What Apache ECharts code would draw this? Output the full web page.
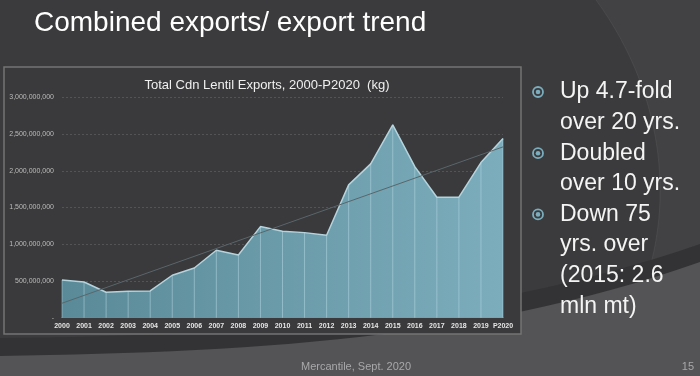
<!DOCTYPE html>
<html>
<head>
<meta charset="utf-8">
<script src="https://cdn.jsdelivr.net/npm/echarts@6/dist/echarts.min.js"></script>
<style>
html,body{margin:0;padding:0;background:#3b3b3d;}
#chart{width:700px;height:376px;}
</style>
</head>
<body>
<div id="chart"></div>
<script>
// ---- data ----
const slideTitle = 'Combined exports/ export trend';
const chartTitle = 'Total Cdn Lentil Exports, 2000-P2020  (kg)';
const categories = ['2000','2001','2002','2003','2004','2005','2006','2007','2008','2009','2010',
  '2011','2012','2013','2014','2015','2016','2017','2018','2019','P2020'];
const exportsKg = [514e6, 486e6, 346e6, 360e6, 364e6, 578e6, 677e6, 918e6, 854e6, 1240e6, 1177e6,
  1158e6, 1122e6, 1808e6, 2094e6, 2625e6, 2057e6, 1640e6, 1640e6, 2112e6, 2439e6];
const trendEnds = [197e6, 2325e6];      // linear trend line at 2000 and P2020
const yMax = 3000000000;
const yStep = 500000000;
const bullets = [
  ['Up 4.7-fold', 'over 20 yrs.'],
  ['Doubled', 'over 10 yrs.'],
  ['Down 75', 'yrs. over', '(2015: 2.6', 'mln mt)']
];
const footer = 'Mercantile, Sept. 2020';
const pageNo = '15';

// ---- decoration helpers (background shapes only) ----
function bez(p0, p1, p2, p3, n) {
  const pts = [];
  for (let i = 0; i <= n; i++) {
    const t = i / n, u = 1 - t;
    pts.push([
      u*u*u*p0[0] + 3*u*u*t*p1[0] + 3*u*t*t*p2[0] + t*t*t*p3[0],
      u*u*u*p0[1] + 3*u*u*t*p1[1] + 3*u*t*t*p2[1] + t*t*t*p3[1]
    ]);
  }
  return pts;
}
const arcPts = bez([596, 0], [640, 60], [662, 130], [660, 200], 20)
  .concat(bez([660, 200], [658, 270], [630, 330], [600, 376], 20).slice(1));
const shadowPts = bez([0, 338], [250, 336], [480, 320], [700, 244], 30);
const floorPts = bez([0, 356], [250, 352], [480, 340], [700, 262], 30);

// ---- chart ----
const chart = echarts.init(document.getElementById('chart'), null, {renderer: 'canvas'});

const graphics = [];
graphics.push({type: 'polygon', z: -20, silent: true,
  shape: {points: arcPts.concat([[700, 376], [700, 0]])},
  style: {fill: '#424244'}});
graphics.push({type: 'polyline', z: -19, silent: true,
  shape: {points: arcPts},
  style: {stroke: 'rgba(255,255,255,0.06)', lineWidth: 1}});
graphics.push({type: 'polygon', z: -18, silent: true,
  shape: {points: shadowPts.concat([[700, 376], [0, 376]])},
  style: {fill: '#333335'}});
graphics.push({type: 'polygon', z: -17, silent: true,
  shape: {points: floorPts.concat([[700, 376], [0, 376]])},
  style: {fill: '#545456'}});
// chart panel
graphics.push({type: 'rect', z: -10, silent: true,
  shape: {x: 4, y: 67, width: 517, height: 267},
  style: {fill: '#3a393b', stroke: '#747476', lineWidth: 1.5}});
// slide title
graphics.push({type: 'text', z: 50, left: 34, top: 9,
  style: {text: slideTitle, fill: '#ffffff', font: '28px "Liberation Sans", Arial, sans-serif'}});
// footer
graphics.push({type: 'text', z: 50, x: 356, y: 367,
  style: {text: footer, fill: '#a8a8aa', font: '11px "Liberation Sans", Arial, sans-serif', textAlign: 'center', textVerticalAlign: 'middle'}});
graphics.push({type: 'text', z: 50, x: 694, y: 367,
  style: {text: pageNo, fill: '#a8a8aa', font: '11px "Liberation Sans", Arial, sans-serif', textAlign: 'right', textVerticalAlign: 'middle'}});
// bullets
let lineIdx = 0;
const lineH = 30.6;
bullets.forEach(function (group) {
  const yc = 92 + lineIdx * lineH;
  graphics.push({type: 'circle', z: 50, silent: true, shape: {cx: 538, cy: yc, r: 5},
    style: {fill: null, stroke: '#7aaebe', lineWidth: 1.8}});
  graphics.push({type: 'circle', z: 50, silent: true, shape: {cx: 538, cy: yc, r: 2.3},
    style: {fill: '#7aaebe'}});
  group.forEach(function (line) {
    graphics.push({type: 'text', z: 50, x: 560, y: 92 + lineIdx * lineH,
      style: {text: line, fill: '#f4f4f4', font: '23px "Liberation Sans", Arial, sans-serif', textVerticalAlign: 'middle'}});
    lineIdx++;
  });
});

const option = {
  backgroundColor: '#3b3b3d',
  animation: false,
  title: {
    text: chartTitle, left: 262, top: 74, textAlign: 'center',
    textStyle: {color: '#f0f0f0', fontSize: 13, fontWeight: 'normal', fontFamily: '"Liberation Sans", Arial, sans-serif'}
  },
  grid: {left: 62, right: 197, top: 97.3, bottom: 58.3, containLabel: false},
  xAxis: {
    type: 'category', data: categories, boundaryGap: false,
    axisLine: {show: true, lineStyle: {color: '#7c8e94', width: 1}},
    axisTick: {show: false},
    axisLabel: {color: '#e6e6e6', fontSize: 7, fontWeight: 'bold', margin: 5,
      fontFamily: '"Liberation Sans", Arial, sans-serif', interval: 0}
  },
  yAxis: {
    type: 'value', min: 0, max: yMax, interval: yStep,
    axisLine: {show: false}, axisTick: {show: false},
    axisLabel: {color: '#bdbdbd', fontSize: 7, margin: 8,
      fontFamily: '"Liberation Sans", Arial, sans-serif',
      formatter: function (v) { return v === 0 ? '-' : v.toLocaleString('en-US'); }},
    splitLine: {show: true, lineStyle: {color: '#545456', type: [2, 2], width: 1}}
  },
  series: [
    {
      type: 'line', name: 'exports', data: exportsKg, z: 2,
      symbol: 'none', smooth: false,
      lineStyle: {color: '#b4d3dc', width: 1.5},
      areaStyle: {opacity: 1, color: new echarts.graphic.LinearGradient(0, 0, 1, 0, [
        {offset: 0, color: '#5a8a97'}, {offset: 1, color: '#7cadbc'}])}
    },
    {
      type: 'bar', name: 'dividers', data: exportsKg, z: 3, barWidth: 1,
      itemStyle: {color: 'rgba(195,225,235,0.45)'}, silent: true
    },
    {
      type: 'line', name: 'trend', z: 4, symbol: 'none', silent: true,
      data: [[0, trendEnds[0]], [categories.length - 1, trendEnds[1]]],
      lineStyle: {color: '#58666b', width: 1}
    }
  ],
  graphic: graphics
};
chart.setOption(option);
</script>
</body>
</html>
